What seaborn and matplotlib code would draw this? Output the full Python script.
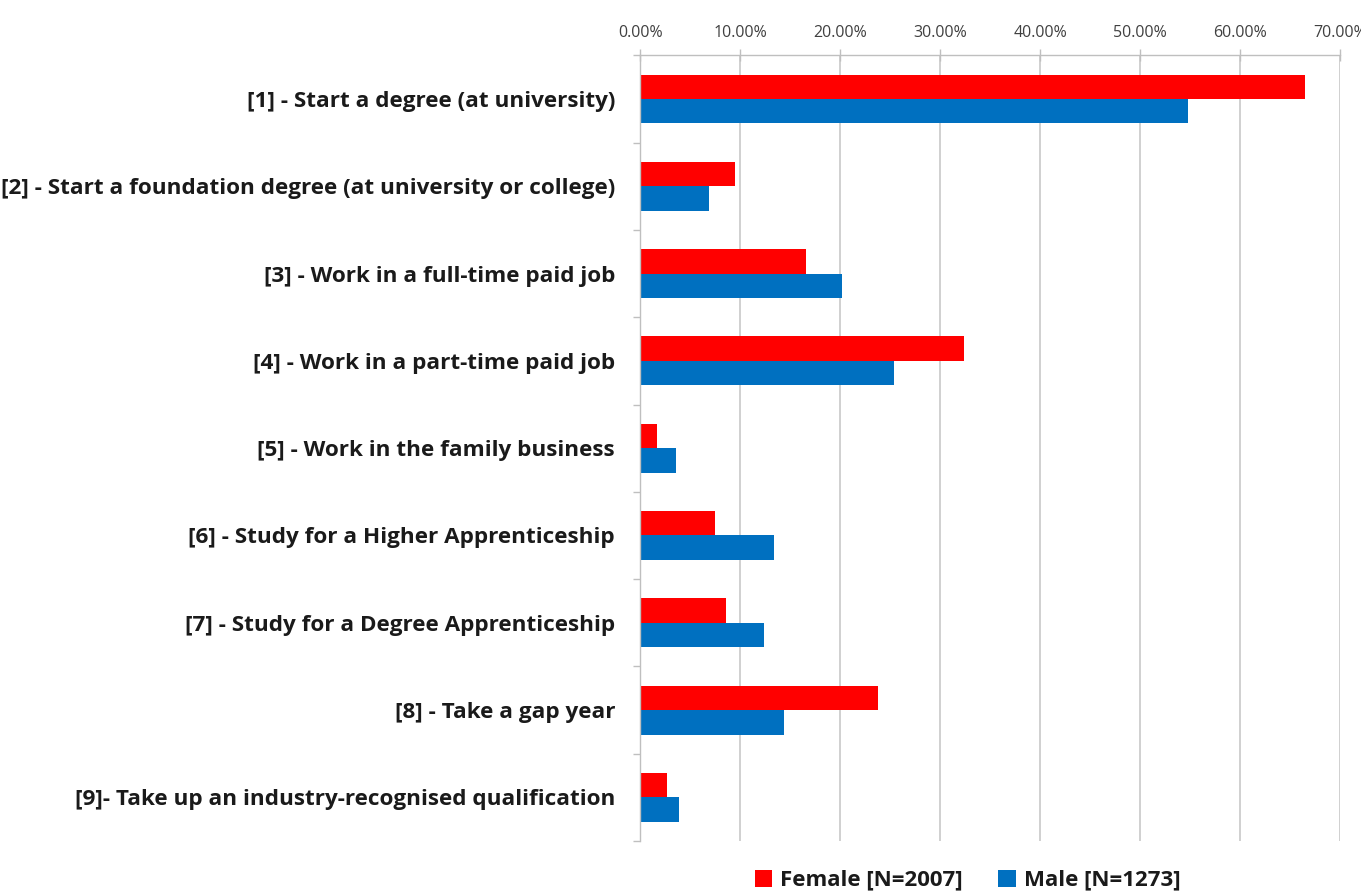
import matplotlib
matplotlib.use("Agg")
import matplotlib.pyplot as plt
import seaborn as sns
import pandas as pd
import numpy as np
from matplotlib.ticker import FixedLocator, PercentFormatter
from matplotlib.patches import Patch

categories = [
    "[1] - Start a degree (at university)",
    "[2] - Start a foundation degree (at university or college)",
    "[3] - Work in a full-time paid job",
    "[4] - Work in a part-time paid job",
    "[5] - Work in the family business",
    "[6] - Study for a Higher Apprenticeship",
    "[7] - Study for a Degree Apprenticeship",
    "[8] - Take a gap year",
    "[9]- Take up an industry-recognised qualification",
]
female = [66.5, 9.5, 16.6, 32.4, 1.7, 7.5, 8.6, 23.8, 2.7]
male = [54.8, 6.9, 20.2, 25.4, 3.6, 13.4, 12.4, 14.4, 3.9]
series_names = ["Female [N=2007]", "Male [N=1273]"]
colors = ["#FF0000", "#0070C0"]
xticks = [0, 10, 20, 30, 40, 50, 60, 70]

df = pd.DataFrame({
    "category": categories * 2,
    "value": female + male,
    "series": [series_names[0]] * len(categories) + [series_names[1]] * len(categories),
})

sns.set_theme(style="white")
plt.rcParams["font.family"] = ["Open Sans", "DejaVu Sans"]

fig = plt.figure(figsize=(13.61, 8.93), dpi=100)
ax = fig.add_axes([0.4703, 0.0582, 0.9846 - 0.4703, 0.938 - 0.0582])

sns.barplot(data=df, y="category", x="value", hue="series", order=categories,
            hue_order=series_names, palette=colors, orient="h", width=0.56,
            gap=0, ax=ax, legend=False, saturation=1, edgecolor="none")

ax.set_xlim(0, 70)
ax.set_ylim(8.5, -0.5)
ax.xaxis.tick_top()
ax.set_xticks(xticks)
ax.xaxis.set_major_formatter(PercentFormatter(decimals=2))
ax.tick_params(axis="x", which="major", direction="inout", length=9, width=1,
               color="#BFBFBF", labelsize=11.5, labelcolor="#404040", pad=6)
ax.grid(axis="x", color="#C8C8C8", linewidth=1.2)
ax.set_axisbelow(True)

ax.yaxis.set_minor_locator(FixedLocator(np.arange(-0.5, 9, 1)))
ax.tick_params(axis="y", which="major", length=0, pad=18, labelsize=16.2)
ax.tick_params(axis="y", which="minor", left=True, length=5, width=1, color="#BFBFBF")
for lbl in ax.get_yticklabels():
    lbl.set_fontweight("bold")
    lbl.set_color("#1A1A1A")

ax.set_xlabel("")
ax.set_ylabel("")
for side in ["right", "bottom"]:
    ax.spines[side].set_visible(False)
for side in ["top", "left"]:
    ax.spines[side].set_color("#BFBFBF")
    ax.spines[side].set_linewidth(1)

handles = [Patch(facecolor=c, edgecolor="none", label=n) for c, n in zip(colors, series_names)]
fig.legend(handles=handles, loc="lower center", bbox_to_anchor=(0.711, -0.02), ncol=2,
           frameon=False, handlelength=0.8, handleheight=0.8, handletextpad=0.35,
           columnspacing=1.6, labelcolor="#1A1A1A",
           prop={"weight": "bold", "size": 16})

fig.savefig("out.png", dpi=100)
